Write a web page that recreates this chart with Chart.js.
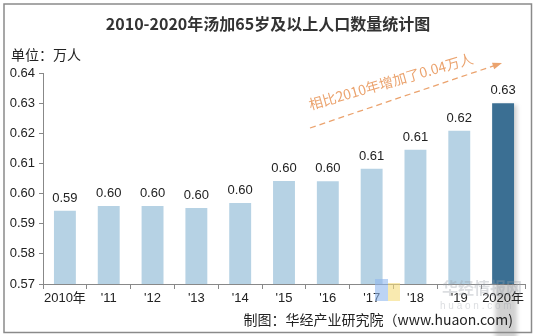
<!DOCTYPE html>
<html lang="zh">
<head>
  <meta charset="UTF-8">
  <title>2010-2020年汤加65岁及以上人口数量统计图</title>
  <script src="https://cdn.jsdelivr.net/npm/chart.js"></script>
  <style>
    html, body { margin: 0; padding: 0; background: #fff; }
    #wrap { width: 535px; height: 336px; position: relative; }
  </style>
</head>
<body>
  <div id="wrap"><canvas id="popChart" width="535" height="336"></canvas></div>

  <script>
    // data
    const years = ['2010年', "'11", "'12", "'13", "'14", "'15", "'16", "'17", "'18", "'19", '2020年'];
    const population = [0.5943, 0.5959, 0.5959, 0.5952, 0.5969, 0.6042, 0.6041, 0.6082, 0.6145, 0.6208, 0.6300];
    const valueLabels = ['0.59', '0.60', '0.60', '0.60', '0.60', '0.60', '0.60', '0.61', '0.61', '0.62', '0.63'];
    const yTicks = [0.57, 0.58, 0.59, 0.60, 0.61, 0.62, 0.63, 0.64];

    const titleText = '2010-2020年汤加65岁及以上人口数量统计图';
    const unitText = '单位：万人';
    const noteText = '相比2010年增加了0.04万人';
    const sourceText = '制图：华经产业研究院（www.huaon.com)';

    const lightBlue = '#b6d2e4';
    const darkBlue = '#3b6f93';
    const barColors = years.map((y, i) => i === years.length - 1 ? darkBlue : lightBlue);

    const cjk = '"Noto Sans CJK SC", "Liberation Sans", sans-serif';

    // frame, title, unit, arrow note, source line
    const decorations = {
      id: 'decorations',
      beforeDraw(chart) {
        const ctx = chart.ctx;
        ctx.save();
        ctx.fillStyle = '#fff';
        ctx.fillRect(0, 0, chart.width, chart.height);
        ctx.restore();
      },
      beforeDatasetsDraw(chart) {
        // shadow behind the last bar
        const ctx = chart.ctx;
        const bar = chart.getDatasetMeta(0).data[years.length - 1];
        ctx.save();
        ctx.fillStyle = 'rgba(0,0,0,0.18)';
        ctx.filter = 'blur(2px)';
        ctx.fillRect(bar.x - bar.width / 2 + 3, bar.y + 2, bar.width, bar.base - bar.y - 2);
        ctx.restore();
      },
      afterDatasetsDraw(chart) {
        const ctx = chart.ctx;
        ctx.save();
        // value labels
        ctx.fillStyle = '#222';
        ctx.font = '13px "Liberation Sans", Arial, sans-serif';
        ctx.textAlign = 'center';
        ctx.textBaseline = 'bottom';
        chart.getDatasetMeta(0).data.forEach((bar, i) => {
          ctx.fillText(valueLabels[i], bar.x, bar.y - 6);
        });

        // frame
        ctx.strokeStyle = '#8a8a8a';
        ctx.lineWidth = 1.5;
        ctx.strokeRect(4, 4, 527.5, 328.5);

        // title
        ctx.fillStyle = '#333';
        ctx.font = 'bold 16px ' + cjk;
        ctx.textBaseline = 'middle';
        ctx.fillText(titleText, 268, 24);

        // unit
        ctx.font = '14px ' + cjk;
        ctx.textAlign = 'left';
        ctx.fillStyle = '#222';
        ctx.fillText(unitText, 11, 55);

        // dashed arrow
        const x0 = 310, y0 = 128, x1 = 502, y1 = 63;
        ctx.strokeStyle = '#eba36e';
        ctx.fillStyle = '#eba36e';
        ctx.lineWidth = 1.3;
        ctx.setLineDash([6, 4]);
        ctx.beginPath();
        ctx.moveTo(x0, y0);
        ctx.lineTo(x1 - 6, y1 + 2);
        ctx.stroke();
        ctx.setLineDash([]);
        const ang = Math.atan2(y1 - y0, x1 - x0);
        ctx.beginPath();
        ctx.moveTo(x1, y1);
        ctx.lineTo(x1 - 10 * Math.cos(ang - 0.35), y1 - 10 * Math.sin(ang - 0.35));
        ctx.lineTo(x1 - 10 * Math.cos(ang + 0.35), y1 - 10 * Math.sin(ang + 0.35));
        ctx.closePath();
        ctx.fill();

        // note text along the arrow
        ctx.save();
        ctx.translate(309, 105);
        ctx.rotate(-0.28);
        ctx.font = '14px ' + cjk;
        ctx.fillStyle = '#eba36e';
        ctx.textAlign = 'left';
        ctx.textBaseline = 'middle';
        ctx.fillText(noteText, 0, 0);
        ctx.restore();

        // watermark
        ctx.globalAlpha = 0.35;
        ctx.fillStyle = '#9aa0a8';
        ctx.font = 'bold 16px ' + cjk;
        ctx.textAlign = 'left';
        ctx.fillText('华经情报网', 442, 288);
        ctx.font = '10px "Liberation Sans", sans-serif';
        ctx.fillText('h u a o n . c o m', 440, 306);
        ctx.globalAlpha = 0.6;
        ctx.fillStyle = '#8fb8ee';
        ctx.fillRect(375, 279, 13, 22);
        ctx.fillStyle = '#f5dc7c';
        ctx.fillRect(388, 283, 12, 18);
        ctx.globalAlpha = 1;

        // source
        ctx.fillStyle = '#222';
        ctx.font = '14px ' + cjk;
        ctx.textAlign = 'right';
        ctx.fillText(sourceText, 513, 320);
        ctx.restore();
      }
    };

    new Chart(document.getElementById('popChart').getContext('2d'), {
      type: 'bar',
      data: {
        labels: years,
        datasets: [{
          data: population,
          backgroundColor: barColors,
          barPercentage: 0.5,
          categoryPercentage: 1.0,
          borderWidth: 0
        }]
      },
      options: {
        responsive: false,
        animation: false,
        events: [],
        layout: { padding: { left: 0, top: 73, right: 10, bottom: 0 } },
        plugins: {
          legend: { display: false },
          tooltip: { enabled: false },
          title: { display: false }
        },
        scales: {
          x: {
            offset: true,
            grid: { offset: true, drawOnChartArea: false, drawTicks: true, tickLength: 5, color: '#888' },
            border: { display: true, color: '#888' },
            ticks: {
              color: '#222',
              font: { size: 13, family: '"Liberation Sans", "Noto Sans CJK SC", sans-serif' },
              padding: 2,
              maxRotation: 0,
              autoSkip: false
            },
            afterFit(scale) { scale.height = 52; }
          },
          y: {
            min: 0.57,
            max: 0.64,
            afterBuildTicks(scale) { scale.ticks = yTicks.map(v => ({ value: v })); },
            grid: { drawOnChartArea: false, drawTicks: true, tickLength: 4, color: '#888' },
            border: { display: true, color: '#888' },
            ticks: {
              color: '#222',
              font: { size: 13, family: '"Liberation Sans", Arial, sans-serif' },
              padding: 4,
              callback: v => Number(v).toFixed(2)
            },
            afterFit(scale) { scale.width = 43; }
          }
        }
      },
      plugins: [decorations]
    });
  </script>
</body>
</html>
